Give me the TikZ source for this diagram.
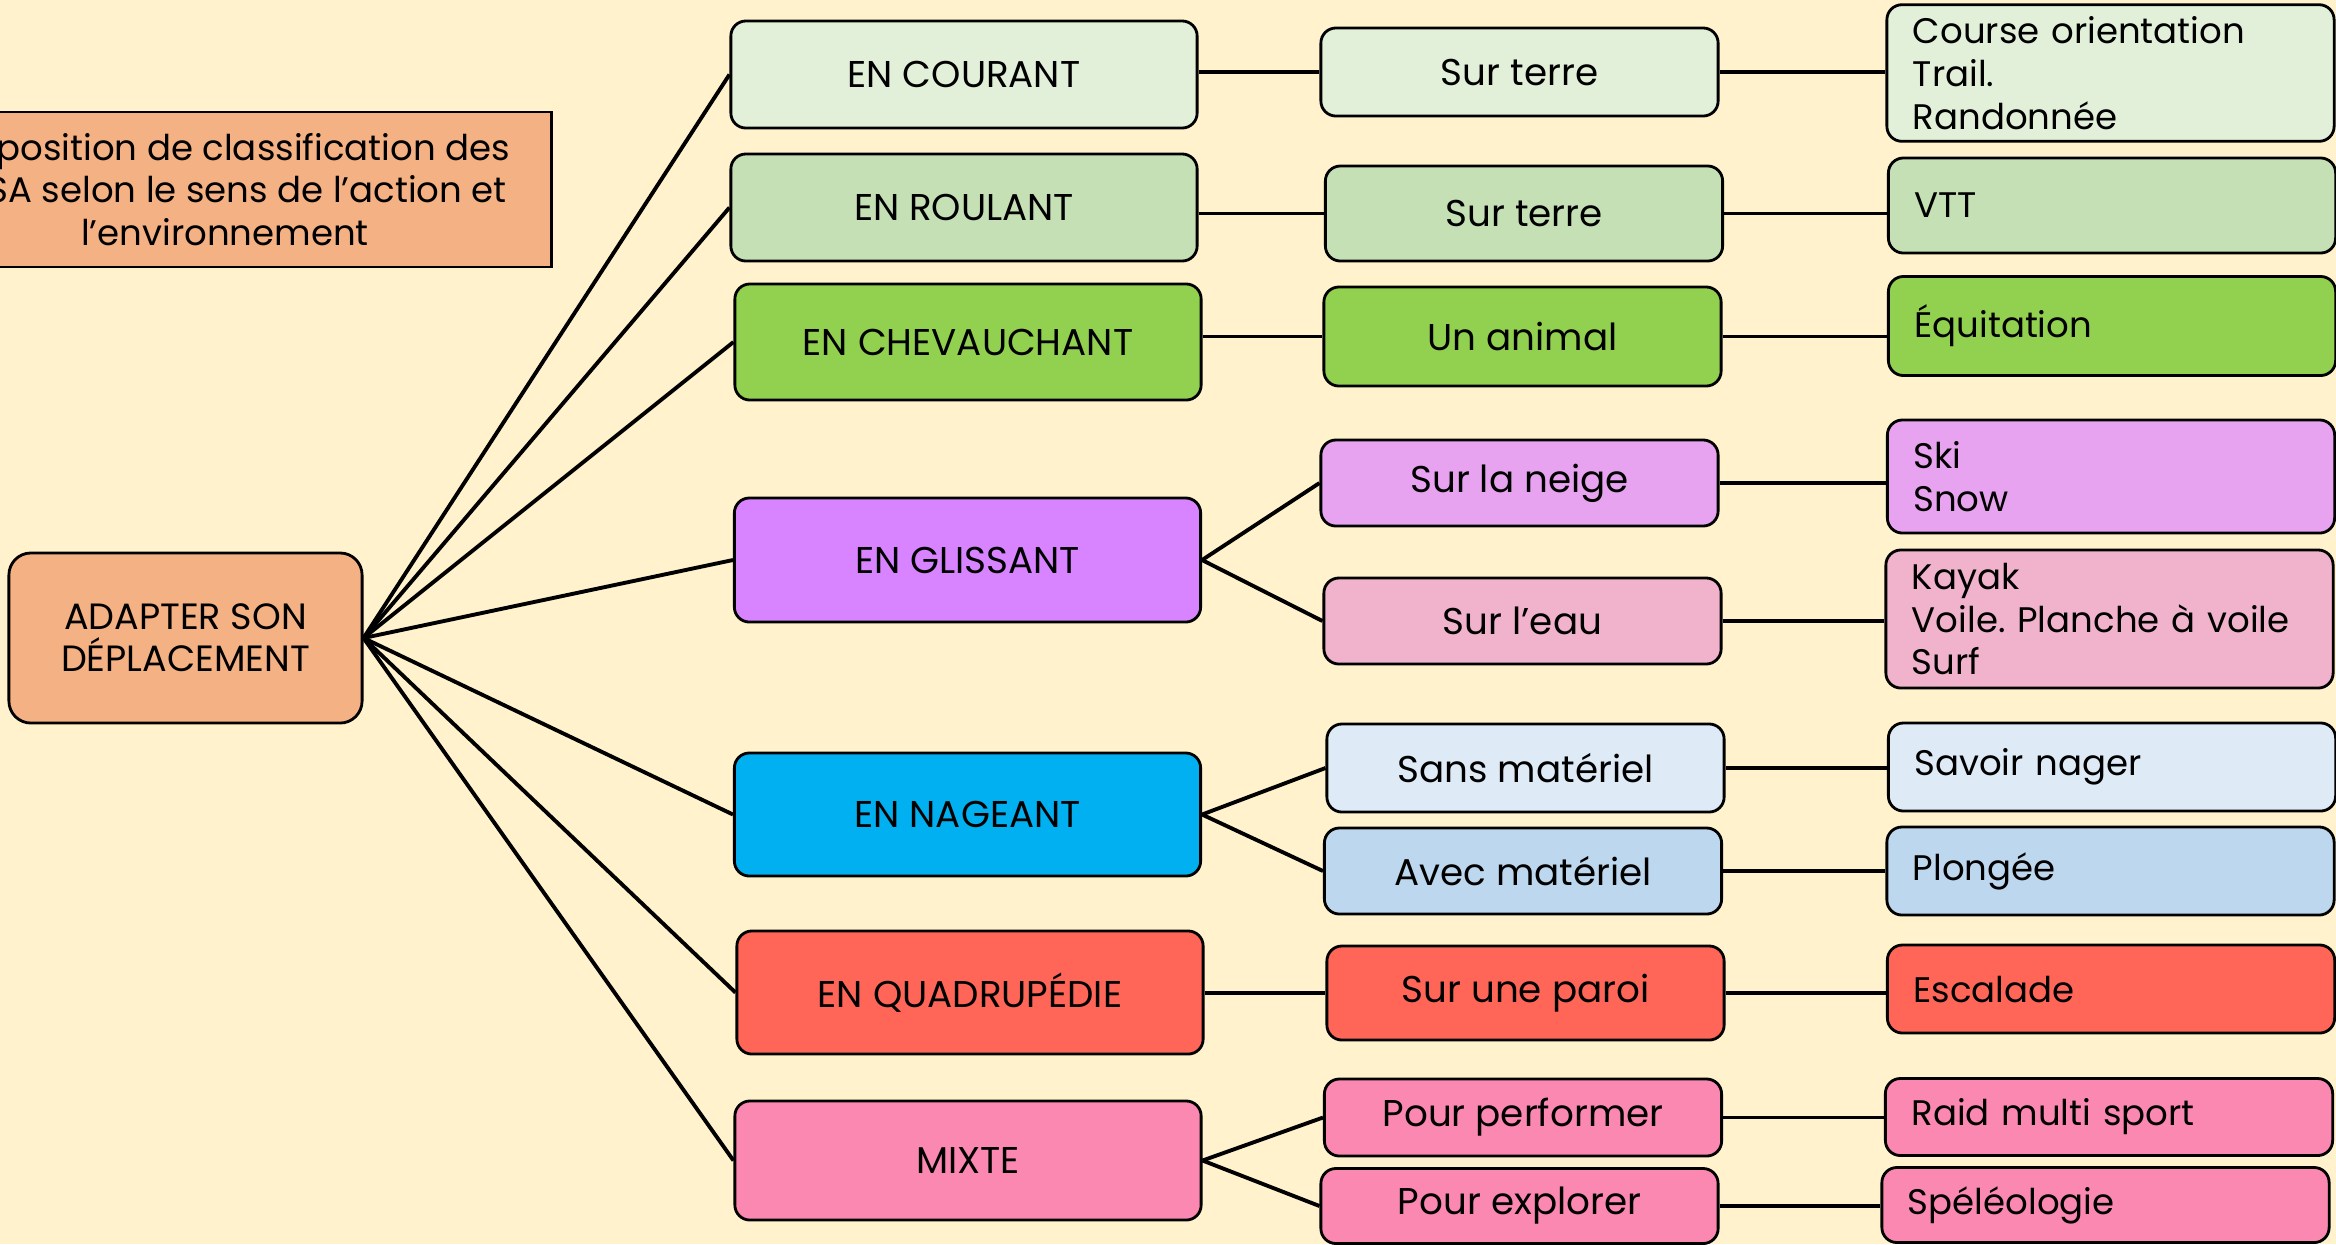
\documentclass[tikz,border=0pt]{standalone}
\usepackage{fontspec}
\setmainfont{Poppins}
\usepackage{tikz}
\usetikzlibrary{positioning}
\frenchspacing
\definecolor{fondcreme}{HTML}{FFF2CC}
\definecolor{orangeclair}{HTML}{F4B183}
\definecolor{vertpale}{HTML}{E2F0D9}
\definecolor{vertclair}{HTML}{C5E0B4}
\definecolor{vertvif}{HTML}{92D050}
\definecolor{violetvif}{HTML}{D883FF}
\definecolor{violetclair}{HTML}{E8A3F0}
\definecolor{roseclair}{HTML}{F0B3CB}
\definecolor{bleuvif}{HTML}{00B0F0}
\definecolor{bleupale}{HTML}{DEEBF7}
\definecolor{bleuclair}{HTML}{BDD7EE}
\definecolor{rougeclair}{HTML}{FF6658}
\definecolor{rosevif}{HTML}{FA88B0}
\tikzset{
    %Define style for boxes
    titre/.style={
           rectangle,
           draw=black, line width=0.8pt,
           minimum width=6.52cm,
           minimum height=1.55cm,
           font=\fontsize{10.1}{12.2}\selectfont,
           align=center,
           fill=orangeclair},
    racine/.style={
           rectangle,
           rounded corners=0.22cm,
           draw=black, line width=0.8pt,
           minimum width=3.53cm,
           minimum height=1.7cm,
           font=\fontsize{10.4}{11.9}\selectfont,
           align=center,
           fill=orangeclair},
    mode/.style={
           rectangle,
           rounded corners=0.15cm,
           draw=black, line width=0.8pt,
           minimum width=4.66cm,
           font=\fontsize{10.6}{12.5}\selectfont,
           align=center},
    milieu/.style={
           rectangle,
           rounded corners=0.15cm,
           draw=black, line width=0.8pt,
           minimum width=3.97cm,
           font=\fontsize{10.6}{12.5}\selectfont,
           align=center},
    activite/.style={
           rectangle,
           rounded corners=0.15cm,
           draw=black, line width=0.8pt,
           text width=3.95cm,
           inner xsep=0.26cm,
           font=\fontsize{10.1}{12.2}\selectfont,
           align=left},
    % Define line style
    lien/.style={
           draw=black,
           line width=1.1pt}
}
\begin{document}
\begin{tikzpicture}[x=0.01cm,y=-0.01cm]
\fill[fondcreme] (0,0) rectangle (2336,1244);
\useasboundingbox (0,0) rectangle (2336,1244);
\node[titre](titre) at (225,189.5){Proposition de classification des\\APSA selon le sens de l’action et\\l’environnement};
\node[racine](racine) at (185.5,638){ADAPTER SON\\DÉPLACEMENT};
% modes de deplacement
\node[mode, fill=vertpale, minimum height=1.07cm](courant) at (964,74.5){EN COURANT};
\node[mode, fill=vertclair, minimum height=1.07cm](roulant) at (964,207.5){EN ROULANT};
\node[mode, fill=vertvif, minimum height=1.16cm](chevauchant) at (968,342){EN CHEVAUCHANT};
\node[mode, fill=violetvif, minimum height=1.24cm](glissant) at (967.5,560){EN GLISSANT};
\node[mode, fill=bleuvif, minimum height=1.23cm](nageant) at (967.5,814.5){EN NAGEANT};
\node[mode, fill=rougeclair, minimum height=1.23cm](quadru) at (970,992.5){EN QUADRUPÉDIE};
\node[mode, fill=rosevif, minimum height=1.19cm](mixte) at (968,1160.5){MIXTE};
% milieux
\node[milieu, fill=vertpale, minimum height=0.88cm](terreA) at (1519.5,72){Sur terre};
\node[milieu, fill=vertclair, minimum height=0.95cm](terreB) at (1524,213.5){Sur terre};
\node[milieu, fill=vertvif, minimum height=0.99cm](animal) at (1522.5,336.5){Un animal};
\node[milieu, fill=violetclair, minimum height=0.86cm](neige) at (1519.5,483){Sur la neige};
\node[milieu, fill=roseclair, minimum height=0.86cm](eau) at (1522.5,621){Sur l’eau};
\node[milieu, fill=bleupale, minimum height=0.88cm](sansmat) at (1525.5,768){Sans matériel};
\node[milieu, fill=bleuclair, minimum height=0.86cm](avecmat) at (1523,871){Avec matériel};
\node[milieu, fill=rougeclair, minimum height=0.94cm](paroi) at (1525.5,993){Sur une paroi};
\node[milieu, fill=rosevif, minimum height=0.77cm](perf) at (1523,1117.5){Pour performer};
\node[milieu, fill=rosevif, minimum height=0.75cm](explo) at (1519.5,1206){Pour explorer};
% activites
\node[activite, fill=vertpale, minimum height=1.30cm](course) at (2110.5,73){Course orientation\\Trail.\\Randonnée};
\node[activite, fill=vertclair, minimum height=0.95cm](vtt) at (2112,205.5){VTT};
\node[activite, fill=vertvif, minimum height=0.99cm](equi) at (2112,326){Équitation};
\node[activite, fill=violetclair, minimum height=1.13cm](ski) at (2111,476.5){Ski\\Snow};
\node[activite, fill=roseclair, minimum height=1.38cm](kayak) at (2109.5,619){Kayak\\Voile. Planche à voile\\Surf};
\node[activite, fill=bleupale, minimum height=0.88cm](nager) at (2112,767){Savoir nager};
\node[activite, fill=bleuclair, minimum height=0.88cm](plongee) at (2110.5,871){Plongée};
\node[activite, fill=rougeclair, minimum height=0.88cm](escalade) at (2111,989){Escalade};
\node[activite, fill=rosevif, minimum height=0.77cm](raid) at (2109,1117){Raid multi sport};
\node[activite, fill=rosevif, minimum height=0.75cm](speleo) at (2105.5,1205){Spéléologie};
 \path[lien]
    (racine.east) edge (courant.west)
    (racine.east) edge (roulant.west)
    (racine.east) edge (chevauchant.west)
    (racine.east) edge (glissant.west)
    (racine.east) edge (nageant.west)
    (racine.east) edge (quadru.west)
    (racine.east) edge (mixte.west);
 \path[lien]
    (courant.east |- terreA.west) edge (terreA.west)
    (roulant.east |- terreB.west) edge (terreB.west)
    (chevauchant.east |- animal.west) edge (animal.west)
    (glissant.east) edge (neige.west)
    (glissant.east) edge (eau.west)
    (nageant.east) edge (sansmat.west)
    (nageant.east) edge (avecmat.west)
    (quadru.east |- paroi.west) edge (paroi.west)
    (mixte.east) edge (perf.west)
    (mixte.east) edge (explo.west);
 \path[lien]
    (terreA.east) edge (course.west |- terreA.east)
    (terreB.east) edge (vtt.west |- terreB.east)
    (animal.east) edge (equi.west |- animal.east)
    (neige.east) edge (ski.west |- neige.east)
    (eau.east) edge (kayak.west |- eau.east)
    (sansmat.east) edge (nager.west |- sansmat.east)
    (avecmat.east) edge (plongee.west |- avecmat.east)
    (paroi.east) edge (escalade.west |- paroi.east)
    (perf.east) edge (raid.west |- perf.east)
    (explo.east) edge (speleo.west |- explo.east);
\end{tikzpicture}
\end{document}
